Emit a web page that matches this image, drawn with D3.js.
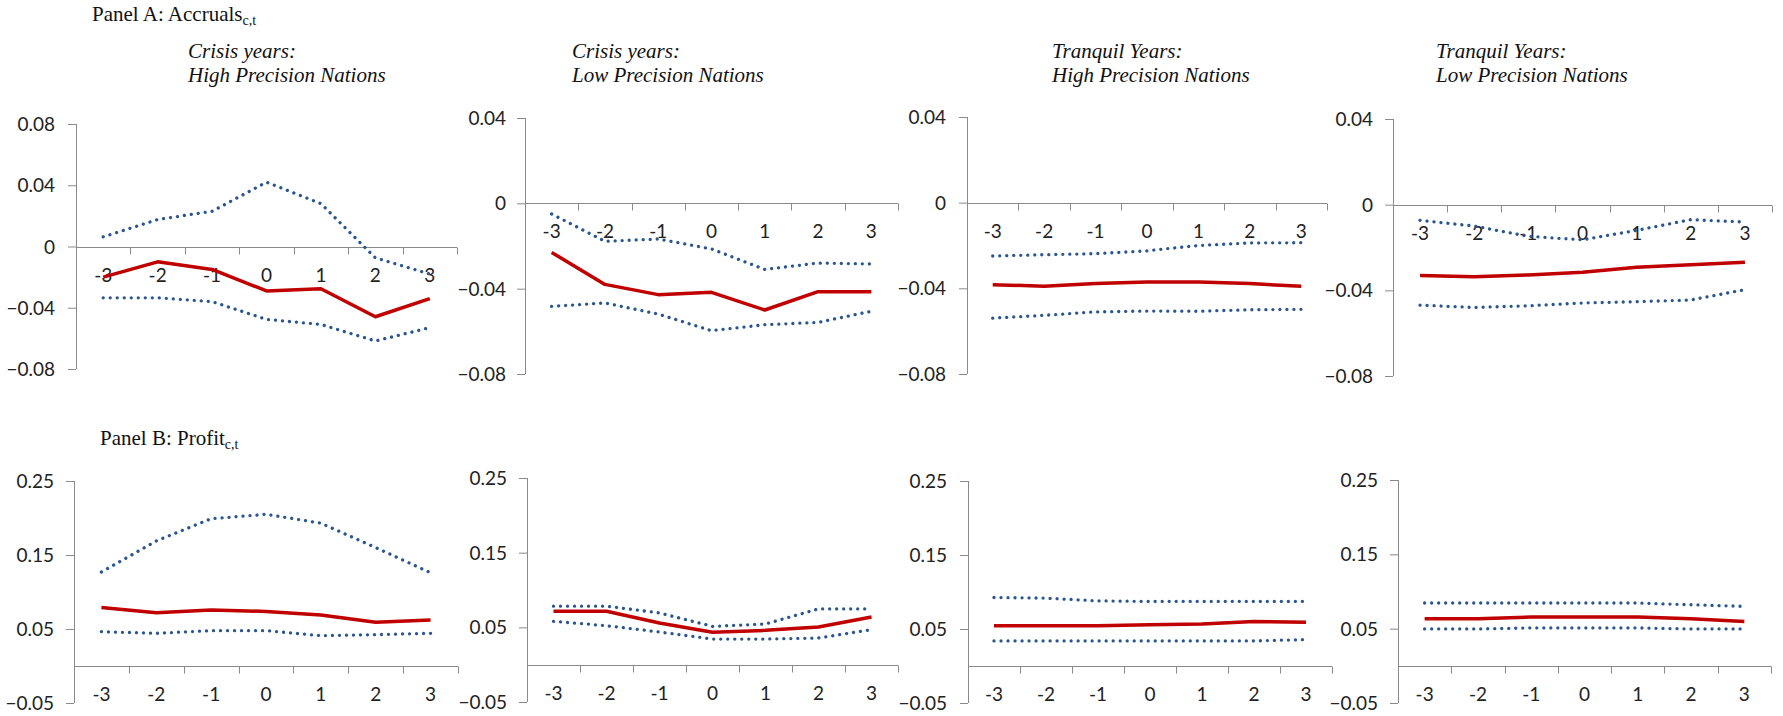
<!DOCTYPE html>
<html>
<head>
<meta charset="utf-8">
<script src="https://cdn.jsdelivr.net/npm/d3@7"></script>
<style>
  html, body { margin: 0; padding: 0; background: #fff; }
  svg { display: block; }
  .ax text { font-family: Lato, "Noto Sans", sans-serif; font-size: 19px; fill: #222; }
  .ttl { font-family: "Liberation Serif", "Times New Roman", serif; font-size: 21px; fill: #111; }
</style>
</head>
<body>
<svg id="chart" width="1783" height="716"></svg>
<script>
// ---------- data ----------
const years = [-3, -2, -1, 0, 1, 2, 3];
const xTickLabels = ["-3", "-2", "-1", "0", "1", "2", "3"];

const panelTitles = ["Panel A: Accruals", "Panel B: Profit"];
const subtitleLine1 = ["Crisis years:", "Crisis years:", "Tranquil Years:", "Tranquil Years:"];
const subtitleLine2 = ["High Precision Nations", "Low Precision Nations", "High Precision Nations", "Low Precision Nations"];

const accrualTicksHigh = [-0.08, -0.04, 0, 0.04, 0.08];
const accrualTicks = [-0.08, -0.04, 0, 0.04];
const profitTicks = [-0.05, 0.05, 0.15, 0.25];

// Panel A: Accruals
const accCrisisHighUpper = [0.0063, 0.0176, 0.023, 0.042, 0.028, -0.0074, -0.018];
const accCrisisHighMean  = [-0.020, -0.010, -0.015, -0.029, -0.0276, -0.0459, -0.034];
const accCrisisHighLower = [-0.0335, -0.0335, -0.036, -0.0476, -0.0509, -0.0617, -0.053];

const accCrisisLowUpper = [-0.005, -0.0178, -0.0167, -0.0214, -0.031, -0.028, -0.0284];
const accCrisisLowMean  = [-0.023, -0.038, -0.0428, -0.0417, -0.050, -0.0414, -0.0414];
const accCrisisLowLower = [-0.0483, -0.0467, -0.0519, -0.0597, -0.0569, -0.0558, -0.0506];

const accTranqHighUpper = [-0.0249, -0.0243, -0.0238, -0.0225, -0.020, -0.0188, -0.0187];
const accTranqHighMean  = [-0.0383, -0.039, -0.0378, -0.037, -0.037, -0.0378, -0.039];
const accTranqHighLower = [-0.0539, -0.0526, -0.051, -0.0506, -0.0507, -0.050, -0.0498];

const accTranqLowUpper = [-0.0073, -0.010, -0.0148, -0.0164, -0.012, -0.007, -0.0081];
const accTranqLowMean  = [-0.0331, -0.0336, -0.0328, -0.0316, -0.0292, -0.028, -0.0269];
const accTranqLowLower = [-0.0469, -0.048, -0.0472, -0.0459, -0.0453, -0.0445, -0.0397];

// Panel B: Profit
const profCrisisHighUpper = [0.127, 0.169, 0.199, 0.205, 0.193, 0.160, 0.126];
const profCrisisHighMean  = [0.079, 0.072, 0.0756, 0.0738, 0.0689, 0.059, 0.062];
const profCrisisHighLower = [0.0464, 0.0442, 0.0478, 0.0478, 0.041, 0.0424, 0.0442];

const profCrisisLowUpper = [0.0783, 0.0783, 0.0693, 0.0513, 0.0545, 0.0747, 0.0747];
const profCrisisLowMean  = [0.0715, 0.0715, 0.0558, 0.0433, 0.046, 0.0504, 0.0639];
const profCrisisLowLower = [0.058, 0.0522, 0.0437, 0.0343, 0.0343, 0.0357, 0.0469];

const profTranqHighUpper = [0.0926, 0.0917, 0.088, 0.0872, 0.0872, 0.0872, 0.0872];
const profTranqHighMean  = [0.0545, 0.0545, 0.0545, 0.0558, 0.0567, 0.0603, 0.059];
const profTranqHighLower = [0.0339, 0.0339, 0.0339, 0.0339, 0.0339, 0.0339, 0.0357];

const profTranqLowUpper = [0.0845, 0.0845, 0.0845, 0.0845, 0.0845, 0.0822, 0.080];
const profTranqLowMean  = [0.0634, 0.0634, 0.0657, 0.0657, 0.0657, 0.0634, 0.0598];
const profTranqLowLower = [0.0496, 0.0496, 0.051, 0.051, 0.051, 0.0496, 0.0496];

// ---------- layout ----------
const panels = [
  { x0: 76,   x1: 457,  yTop: 124, yBot: 369, dom: [-0.08, 0.08], ticks: accrualTicksHigh, axisAt: 0, fmt: d3.format(".2f"),
    up: accCrisisHighUpper, mean: accCrisisHighMean, lo: accCrisisHighLower, lblGap: 21 },
  { x0: 525,  x1: 898,  yTop: 118, yBot: 374, dom: [-0.08, 0.04], ticks: accrualTicks, axisAt: 0, fmt: d3.format(".2f"),
    up: accCrisisLowUpper, mean: accCrisisLowMean, lo: accCrisisLowLower, lblGap: 19 },
  { x0: 967,  x1: 1327, yTop: 117, yBot: 374, dom: [-0.08, 0.04], ticks: accrualTicks, axisAt: 0, fmt: d3.format(".2f"),
    up: accTranqHighUpper, mean: accTranqHighMean, lo: accTranqHighLower, lblGap: 21 },
  { x0: 1393, x1: 1772, yTop: 119, yBot: 376, dom: [-0.08, 0.04], ticks: accrualTicks, axisAt: 0, fmt: d3.format(".2f"),
    up: accTranqLowUpper, mean: accTranqLowMean, lo: accTranqLowLower, lblGap: 20 },
  { x0: 74,   x1: 458,  yTop: 481, yBot: 703, dom: [-0.05, 0.25], ticks: profitTicks, axisAt: 0, fmt: d3.format(".2f"),
    up: profCrisisHighUpper, mean: profCrisisHighMean, lo: profCrisisHighLower, lblGap: 20 },
  { x0: 527,  x1: 898,  yTop: 478, yBot: 702, dom: [-0.05, 0.25], ticks: profitTicks, axisAt: 0, fmt: d3.format(".2f"),
    up: profCrisisLowUpper, mean: profCrisisLowMean, lo: profCrisisLowLower, lblGap: 20 },
  { x0: 968,  x1: 1332, yTop: 481, yBot: 703, dom: [-0.05, 0.25], ticks: profitTicks, axisAt: 0, fmt: d3.format(".2f"),
    up: profTranqHighUpper, mean: profTranqHighMean, lo: profTranqHighLower, lblGap: 21 },
  { x0: 1398, x1: 1771, yTop: 480, yBot: 703, dom: [-0.05, 0.25], ticks: profitTicks, axisAt: 0, fmt: d3.format(".2f"),
    up: profTranqLowUpper, mean: profTranqLowMean, lo: profTranqLowLower, lblGap: 20 },
];

const subtitleX = [188, 572, 1052, 1436];
const axisColor = "#8a8a8a";
const redColor = "#C00000";
const blueColor = "#2A5590";

const svg = d3.select("#chart");

// Panel titles with subscript
function panelTitle(text, x, y) {
  const t = svg.append("text").attr("class", "ttl").attr("x", x).attr("y", y);
  t.append("tspan").text(text);
  t.append("tspan").attr("font-size", 14).attr("dy", 4).text("c,t");
}
panelTitle(panelTitles[0], 92, 21);
panelTitle(panelTitles[1], 100, 445);

// Subtitles
subtitleX.forEach((x, i) => {
  const t = svg.append("text").attr("class", "ttl").attr("font-style", "italic");
  t.append("tspan").attr("x", x).attr("y", 58).text(subtitleLine1[i]);
  t.append("tspan").attr("x", x).attr("y", 82).text(subtitleLine2[i]);
});

panels.forEach(p => {
  const g = svg.append("g");
  const x = d3.scaleBand().domain(years).range([p.x0, p.x1]).paddingInner(0).paddingOuter(0);
  const y = d3.scaleLinear().domain(p.dom).range([p.yBot, p.yTop]);
  const cx = d => x(d) + x.bandwidth() / 2;

  // y axis
  const yAxis = d3.axisLeft(y).tickValues(p.ticks).tickSize(8).tickPadding(p.lblGap - 8)
    .tickFormat(d => p.fmt(d) === "0.00" ? "0" : p.fmt(d));
  const yg = g.append("g").attr("class", "ax").attr("transform", `translate(${p.x0},0)`).call(yAxis);
  yg.select(".domain").attr("stroke", axisColor).attr("d", `M0.5,${p.yTop}V${p.yBot}`);
  yg.selectAll(".tick line").attr("stroke", axisColor);
  yg.selectAll(".tick text").attr("dy", "0.35em");

  // x axis (category boundaries as ticks)
  const yAx = Math.round(y(p.axisAt)) + 0.5;
  const xg = g.append("g").attr("class", "ax");
  xg.append("line").attr("x1", p.x0).attr("x2", p.x1).attr("y1", yAx).attr("y2", yAx)
    .attr("stroke", axisColor).attr("stroke-width", 1);
  years.forEach(d => {
    const bx = Math.round(x(d) + x.bandwidth()) + 0.5;
    xg.append("line").attr("x1", bx).attr("x2", bx).attr("y1", yAx).attr("y2", yAx + 7)
      .attr("stroke", axisColor);
  });
  xg.selectAll("text.xl").data(years).join("text").attr("class", "xl")
    .attr("x", d => cx(d)).attr("y", yAx + 28).attr("dy", "0.35em")
    .attr("text-anchor", "middle").text((d, i) => xTickLabels[i]);

  const line = d3.line().x((d, i) => cx(years[i])).y(d => y(d));

  [p.up, p.lo].forEach(arr => {
    g.append("path").attr("d", line(arr)).attr("fill", "none")
      .attr("stroke", blueColor).attr("stroke-width", 3.3)
      .attr("stroke-linecap", "round").attr("stroke-dasharray", "0.01 7");
  });
  g.append("path").attr("d", line(p.mean)).attr("fill", "none")
    .attr("stroke", redColor).attr("stroke-width", 3.5).attr("stroke-linejoin", "round");
});
</script>
</body>
</html>
